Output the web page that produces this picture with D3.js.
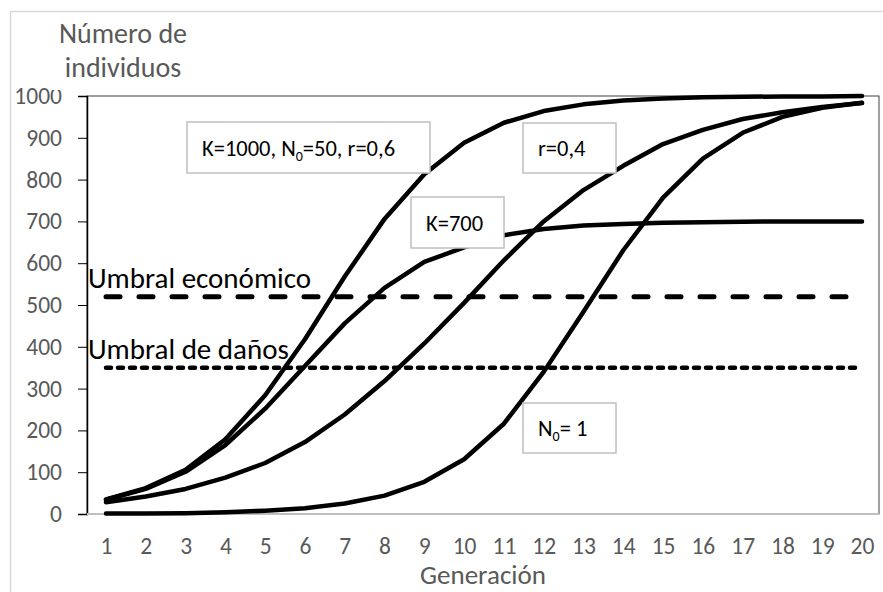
<!DOCTYPE html>
<html>
<head>
<meta charset="utf-8">
<script src="https://cdn.jsdelivr.net/npm/d3@7"></script>
<style>
  body { margin: 0; background: #fff; }
  svg { display: block; font-family: Carlito, Calibri, Lato, sans-serif; }
</style>
</head>
<body>
<div id="chart"></div>
<script>
// generaciones y series
const generaciones = [1, 2, 3, 4, 5, 6, 7, 8, 9, 10, 11, 12, 13, 14, 15, 16, 17, 18, 19, 20];
const serieK1000 = [35, 62, 106, 179, 284, 418, 568, 706, 813, 888, 936, 964, 980, 989, 994, 997, 998, 999, 999, 1000];
const serieK700 = [34, 60, 101, 165, 252, 354, 456, 541, 603, 638, 667, 682, 690, 694, 697, 698, 699, 700, 700, 700];
const serieR04 = [28, 42, 60, 87, 122, 172, 238, 318, 408, 505, 607, 700, 775, 833, 885, 919, 945, 961, 974, 983];
const serieN01 = [1, 1, 2, 4, 8, 14, 25, 44, 77, 131, 216, 340, 484, 631, 757, 850, 912, 950, 972, 984];
const umbralEconomico = 520;
const umbralDanos = 350;
const yTicks = [0, 100, 200, 300, 400, 500, 600, 700, 800, 900, 1000];

const width = 883, height = 592;
const plot = { left: 87, right: 879, top: 96, bottom: 514 };

const svg = d3.select("#chart")
    .append("svg")
    .attr("width", width)
    .attr("height", height);

// borde exterior del grafico
svg.append("rect")
    .attr("x", 10.5).attr("y", 11.5)
    .attr("width", 900).attr("height", 600)
    .attr("fill", "#fff")
    .attr("stroke", "#d9d9d9")
    .attr("stroke-width", 1.5);

const x = d3.scalePoint()
    .domain(generaciones)
    .range([106, 862]);

const y = d3.scaleLinear()
    .domain([0, 1000])
    .range([plot.bottom, plot.top]);

// area de trazado
svg.append("rect")
    .attr("x", plot.left).attr("y", plot.top)
    .attr("width", plot.right - plot.left)
    .attr("height", plot.bottom - plot.top)
    .attr("fill", "none")
    .attr("stroke", "#404040")
    .attr("stroke-width", 1);

// eje y
const yAxis = svg.append("g")
    .attr("transform", `translate(${plot.left},0)`)
    .call(d3.axisLeft(y).tickValues(yTicks).tickFormat(d3.format("d")).tickSize(9).tickPadding(16));
yAxis.select(".domain").attr("stroke", "#000").attr("stroke-width", 1.5);
yAxis.selectAll(".tick line").attr("stroke", "#000").attr("stroke-width", 1);
yAxis.selectAll(".tick text")
    .attr("fill", "#595959")
    .style("font-size", "23.5px")
    .style("font-family", "Carlito, Calibri, Lato, sans-serif");

// eje x
const xAxis = svg.append("g")
    .attr("transform", `translate(0,${plot.bottom})`)
    .call(d3.axisBottom(x).tickSize(0).tickPadding(23));
xAxis.select(".domain").remove();
xAxis.selectAll(".tick text")
    .attr("fill", "#595959")
    .style("font-size", "23.5px")
    .style("font-family", "Carlito, Calibri, Lato, sans-serif");
svg.append("line")
    .attr("x1", plot.left).attr("x2", plot.right)
    .attr("y1", plot.bottom).attr("y2", plot.bottom)
    .attr("stroke", "#bfbfbf")
    .attr("stroke-width", 2);

// umbrales
const umbrales = [
    { value: umbralEconomico, label: "Umbral económico", dash: "14,19", width: 5 },
    { value: umbralDanos, label: "Umbral de daños", dash: "5,7", width: 4.5 }
];
umbrales.forEach(u => {
    svg.append("line")
        .attr("x1", x(1)).attr("x2", x(20))
        .attr("y1", y(u.value)).attr("y2", y(u.value))
        .attr("stroke", "#000")
        .attr("stroke-width", u.width)
        .attr("stroke-linecap", "round")
        .attr("stroke-dasharray", u.dash);
    svg.append("text")
        .attr("x", 88)
        .attr("y", y(u.value) - 9)
        .style("font-size", "29px")
        .attr("fill", "#000")
        .text(u.label);
});

// curvas
const line = d3.line()
    .x((d, i) => x(generaciones[i]))
    .y(d => y(d));

[serieN01, serieR04, serieK700, serieK1000].forEach(serie => {
    svg.append("path")
        .datum(serie)
        .attr("d", line)
        .attr("fill", "none")
        .attr("stroke", "#000")
        .attr("stroke-width", 4.5)
        .attr("stroke-linejoin", "round")
        .attr("stroke-linecap", "round");
});

// cuadros de texto
const cuadros = [
    { x: 187, y: 122, w: 243, h: 51, parts: [["K=1000, N", false], ["0", true], ["=50, r=0,6", false]] },
    { x: 411, y: 197, w: 93, h: 51, parts: [["K=700", false]] },
    { x: 523, y: 123, w: 93, h: 50, parts: [["r=0,4", false]] },
    { x: 523, y: 403, w: 93, h: 50, parts: [["N", false], ["0", true], ["= 1", false]] }
];
cuadros.forEach(c => {
    svg.append("rect")
        .attr("x", c.x).attr("y", c.y)
        .attr("width", c.w).attr("height", c.h)
        .attr("fill", "#fff")
        .attr("stroke", "#bfbfbf")
        .attr("stroke-width", 1.5);
    const t = svg.append("text")
        .attr("x", c.x + 15)
        .attr("y", c.y + c.h / 2 + 8)
        .style("font-size", "22.5px")
        .attr("fill", "#000");
    c.parts.forEach(p => {
        const ts = t.append("tspan").text(p[0]);
        if (p[1]) ts.attr("dy", 5).style("font-size", "14px");
        else if (t.selectAll("tspan").size() > 1) ts.attr("dy", -5);
    });
});

// titulo del eje y (con fondo blanco que tapa parte del 1000)
svg.append("rect")
    .attr("x", 51).attr("y", 14)
    .attr("width", 146).attr("height", 76)
    .attr("fill", "#fff");
svg.append("text")
    .attr("x", 123).attr("y", 43)
    .attr("text-anchor", "middle")
    .attr("fill", "#595959")
    .style("font-size", "28px")
    .text("Número de");
svg.append("text")
    .attr("x", 123).attr("y", 77)
    .attr("text-anchor", "middle")
    .attr("fill", "#595959")
    .style("font-size", "28px")
    .text("individuos");

// titulo del eje x
svg.append("text")
    .attr("x", 483).attr("y", 584)
    .attr("text-anchor", "middle")
    .attr("fill", "#595959")
    .style("font-size", "27px")
    .text("Generación");
</script>
</body>
</html>
